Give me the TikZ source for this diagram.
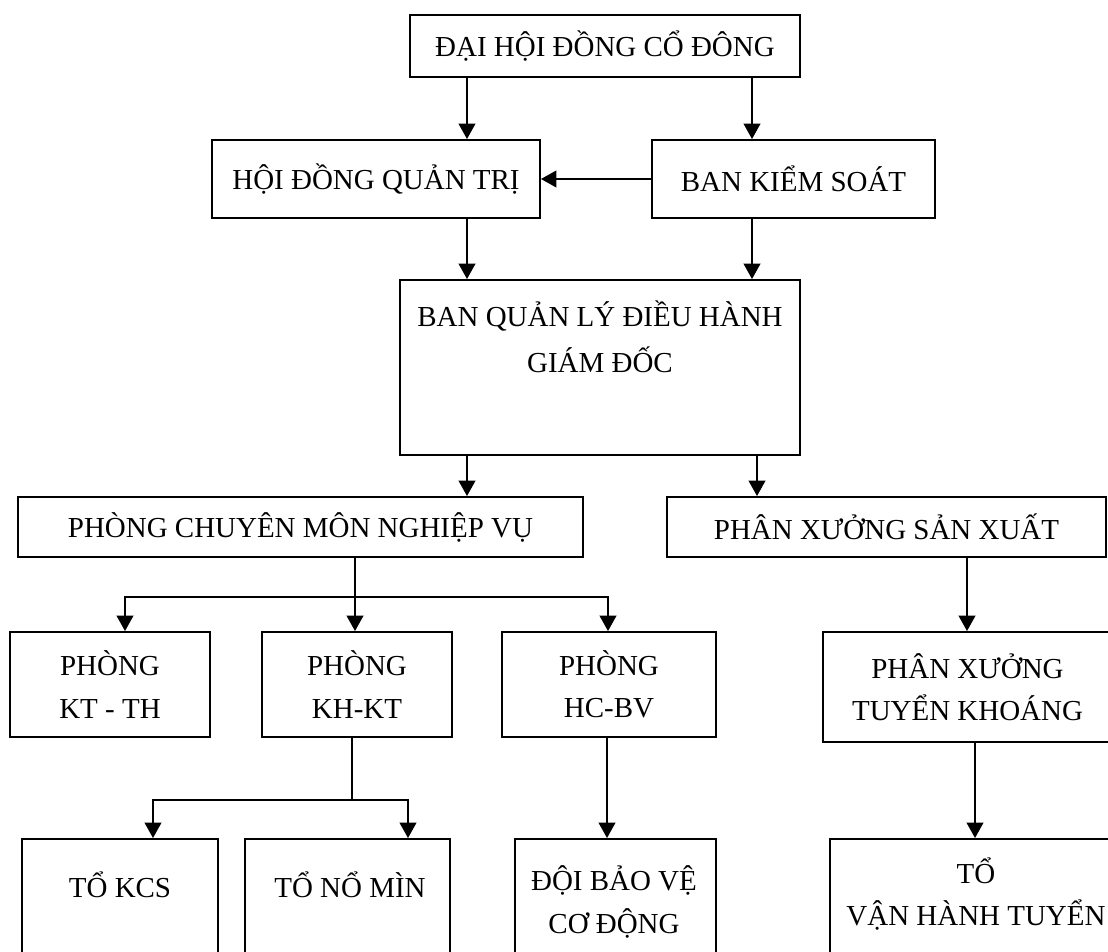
\documentclass[tikz,border=0pt]{standalone}
\usepackage{fontspec}
\setmainfont{Liberation Serif}
\usetikzlibrary{arrows.meta, positioning}
\def\px{0.025cm}
\tikzset{
  box/.style={draw, line width=1.4pt, inner sep=0pt, align=center},
  txt/.style={align=center, inner sep=0pt},
  arr/.style={line width=1.1pt, -{Triangle[length=11pt, width=12pt]}},
  link/.style={line width=1.1pt, line cap=rect}
}

\begin{document}
\begin{tikzpicture}[x=\px, y=-\px, font=\fontsize{20.6}{30}\selectfont]
  \useasboundingbox (0,0) rectangle (1108,951);
  \clip (0,0) rectangle (1108,951);
  % \draw[gray!30] (0,0) grid[step=100] (1108,951);

  % top levels
  \node[box, minimum width=390*\px, minimum height=62*\px] (dh) at (605,46) {ĐẠI HỘI ĐỒNG CỔ ĐÔNG};
  \node[box, minimum width=328*\px, minimum height=78*\px] (hq) at (376,179) {HỘI ĐỒNG QUẢN TRỊ};
  \node[box, minimum width=283*\px, minimum height=78*\px] (bks) at (793.5,179) {BAN KIỂM SOÁT};
  \node[box, minimum width=400*\px, minimum height=175*\px] (bql) at (600,367.5) {};
  \node[txt] (bqlt) at (600,337) {BAN QUẢN LÝ ĐIỀU HÀNH\\[3pt]GIÁM ĐỐC};

  % departments
  \node[box, minimum width=565*\px, minimum height=60*\px] (pc) at (300.5,527) {PHÒNG CHUYÊN MÔN NGHIỆP VỤ};
  \node[box, minimum width=439*\px, minimum height=60*\px] (pxsx) at (886.5,527) {PHÂN XƯỞNG SẢN XUẤT};
  \node[box, minimum width=200*\px, minimum height=105*\px] (kt) at (110,684.5) {PHÒNG\\KT - TH};
  \node[box, minimum width=190*\px, minimum height=105*\px] (kh) at (357,684.5) {PHÒNG\\KH-KT};
  \node[box, minimum width=214*\px, minimum height=105*\px] (hc) at (609,684.5) {PHÒNG\\HC-BV};
  \node[box, minimum width=289*\px, minimum height=110*\px] (tk) at (967.5,687) {PHÂN XƯỞNG\\TUYỂN KHOÁNG};

  % teams (cut off at the bottom)
  \node[box, anchor=north, minimum width=196*\px, minimum height=160*\px] (kcs) at (120,838) {};
  \node[box, anchor=north, minimum width=205*\px, minimum height=160*\px] (nm) at (347.5,838) {};
  \node[box, anchor=north, minimum width=201*\px, minimum height=160*\px] (db) at (615.5,838) {};
  \node[box, anchor=north, minimum width=282*\px, minimum height=160*\px] (vh) at (971,838) {};
  \node[txt] (kcst) at (120,885) {TỔ KCS};
  \node[txt] (nmt) at (350,885) {TỔ NỔ MÌN};
  \node[txt] (dbt) at (614,902) {ĐỘI BẢO VỆ\\CƠ ĐỘNG};
  \node[txt] (vht) at (976,894) {TỔ\\VẬN HÀNH TUYỂN};

  % connectors
  \coordinate (cl) at (467,0);
  \coordinate (cr) at (752,0);
  \coordinate (cs) at (757,0);
  \draw[arr] (dh.south -| cl) -- (hq.north -| cl);
  \draw[arr] (dh.south -| cr) -- (bks.north -| cr);
  \draw[arr] (bks.west) -- (hq.east);
  \draw[arr] (hq.south -| cl) -- (bql.north -| cl);
  \draw[arr] (bks.south -| cr) -- (bql.north -| cr);
  \draw[arr] (bql.south -| cl) -- (pc.north -| cl);
  \draw[arr] (bql.south -| cs) -- (pxsx.north -| cs);

  \coordinate (f1) at (125,597);
  \coordinate (f2) at (355,597);
  \coordinate (f3) at (608,597);
  \draw[link] (pc.south -| f2) -- (f2);
  \draw[link] (f1) -- (f3);
  \draw[arr] (f1) -- (kt.north -| f1);
  \draw[arr] (f2) -- (kh.north -| f2);
  \draw[arr] (f3) -- (hc.north -| f3);

  \coordinate (cx) at (967,0);
  \draw[arr] (pxsx.south -| cx) -- (tk.north -| cx);

  \coordinate (g0) at (352,800);
  \coordinate (g1) at (153,800);
  \coordinate (g2) at (408,800);
  \draw[link] (kh.south -| g0) -- (g0);
  \draw[link] (g1) -- (g2);
  \draw[arr] (g1) -- (kcs.north -| g1);
  \draw[arr] (g2) -- (nm.north -| g2);

  \coordinate (ch) at (607,0);
  \coordinate (cv) at (975,0);
  \draw[arr] (hc.south -| ch) -- (db.north -| ch);
  \draw[arr] (tk.south -| cv) -- (vh.north -| cv);
\end{tikzpicture}
\end{document}
